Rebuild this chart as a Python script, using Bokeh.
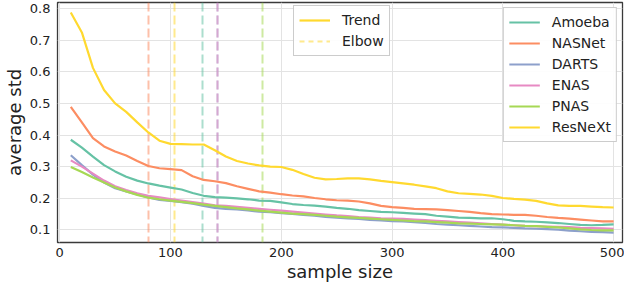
from bokeh.plotting import figure
from bokeh.models import Range1d, Legend, LegendItem, FixedTicker, NumeralTickFormatter
from bokeh.embed import file_html
from bokeh.resources import INLINE

sample_sizes = list(range(10, 510, 10))

amoeba = [0.385, 0.360, 0.332, 0.305, 0.285, 0.268, 0.256, 0.247, 0.240, 0.234,
          0.228, 0.217, 0.208, 0.204, 0.202, 0.200, 0.197, 0.193, 0.192, 0.187,
          0.182, 0.179, 0.177, 0.174, 0.170, 0.167, 0.163, 0.160, 0.157, 0.156,
          0.154, 0.152, 0.150, 0.145, 0.142, 0.139, 0.138, 0.137, 0.137, 0.134,
          0.129, 0.127, 0.126, 0.124, 0.122, 0.119, 0.116, 0.115, 0.116, 0.118]
nasnet = [0.489, 0.440, 0.390, 0.364, 0.348, 0.335, 0.318, 0.302, 0.295, 0.292,
          0.289, 0.270, 0.258, 0.254, 0.248, 0.238, 0.230, 0.222, 0.218, 0.213,
          0.209, 0.206, 0.201, 0.197, 0.194, 0.193, 0.190, 0.184, 0.176, 0.172,
          0.170, 0.167, 0.166, 0.165, 0.163, 0.160, 0.157, 0.153, 0.150, 0.149,
          0.148, 0.148, 0.145, 0.141, 0.138, 0.136, 0.133, 0.130, 0.127, 0.127]
darts = [0.336, 0.305, 0.275, 0.250, 0.232, 0.222, 0.212, 0.203, 0.195, 0.192,
         0.188, 0.183, 0.176, 0.170, 0.167, 0.165, 0.162, 0.158, 0.156, 0.153,
         0.151, 0.148, 0.145, 0.141, 0.139, 0.137, 0.135, 0.132, 0.130, 0.128,
         0.127, 0.125, 0.122, 0.119, 0.117, 0.115, 0.113, 0.111, 0.109, 0.108,
         0.107, 0.105, 0.104, 0.103, 0.101, 0.098, 0.096, 0.094, 0.093, 0.092]
enas = [0.320, 0.300, 0.278, 0.256, 0.238, 0.226, 0.216, 0.208, 0.203, 0.198,
        0.193, 0.188, 0.183, 0.178, 0.176, 0.173, 0.170, 0.167, 0.164, 0.161,
        0.158, 0.155, 0.152, 0.149, 0.146, 0.144, 0.141, 0.139, 0.137, 0.136,
        0.135, 0.133, 0.131, 0.129, 0.127, 0.125, 0.123, 0.121, 0.119, 0.117,
        0.115, 0.113, 0.112, 0.111, 0.110, 0.109, 0.107, 0.106, 0.105, 0.104]
pnas = [0.299, 0.283, 0.266, 0.250, 0.234, 0.222, 0.211, 0.202, 0.197, 0.193,
        0.189, 0.185, 0.180, 0.176, 0.172, 0.168, 0.165, 0.161, 0.158, 0.155,
        0.152, 0.150, 0.148, 0.145, 0.142, 0.140, 0.138, 0.136, 0.134, 0.132,
        0.130, 0.128, 0.127, 0.125, 0.123, 0.121, 0.120, 0.119, 0.118, 0.117,
        0.115, 0.113, 0.112, 0.110, 0.108, 0.105, 0.102, 0.100, 0.099, 0.099]
resnext = [0.787, 0.724, 0.612, 0.542, 0.500, 0.473, 0.440, 0.408, 0.382, 0.372,
           0.371, 0.370, 0.370, 0.352, 0.332, 0.318, 0.310, 0.304, 0.300, 0.299,
           0.290, 0.277, 0.265, 0.260, 0.261, 0.263, 0.263, 0.260, 0.255, 0.251,
           0.247, 0.243, 0.238, 0.232, 0.222, 0.216, 0.214, 0.212, 0.208, 0.201,
           0.198, 0.196, 0.192, 0.184, 0.178, 0.176, 0.176, 0.174, 0.172, 0.171]

series_names = ["Amoeba", "NASNet", "DARTS", "ENAS", "PNAS", "ResNeXt"]
series_values = [amoeba, nasnet, darts, enas, pnas, resnext]
series_colors = ["#66c2a5", "#fc8d62", "#8da0cb", "#e78ac3", "#a6d854", "#ffd92f"]
elbow_x = [129, 80, 142, 142, 183, 104]

x_ticks = [0, 100, 200, 300, 400, 500]
y_ticks = [0.1, 0.2, 0.3, 0.4, 0.5, 0.6, 0.7, 0.8]

FONT = "DejaVu Sans"

p = figure(width=624, height=284, output_backend="svg", toolbar_location=None,
           x_range=Range1d(-2, 508), y_range=Range1d(0.0605, 0.8185),
           min_border_left=40, min_border_right=2, min_border_top=2, min_border_bottom=30)
p.background_fill_color = "white"
p.border_fill_color = "white"
p.outline_line_color = "#3a3a3a"
p.outline_line_width = 1.3

p.xgrid.grid_line_color = "#e3e3e3"
p.ygrid.grid_line_color = "#e3e3e3"
p.xgrid.grid_line_width = 1
p.ygrid.grid_line_width = 1

p.xaxis.ticker = FixedTicker(ticks=x_ticks)
p.yaxis.ticker = FixedTicker(ticks=y_ticks)
p.yaxis.formatter = NumeralTickFormatter(format="0.0")
for ax in (p.xaxis, p.yaxis):
    ax.axis_line_color = None
    ax.major_tick_line_color = None
    ax.minor_tick_line_color = None
    ax.major_tick_out = 0
    ax.major_tick_in = 0
    ax.major_label_text_font = FONT
    ax.major_label_text_font_size = "13px"
    ax.major_label_text_color = "#222222"
    ax.axis_label_text_font = FONT
    ax.axis_label_text_font_size = "18px"
    ax.axis_label_text_font_style = "normal"
    ax.axis_label_text_color = "#222222"
p.xaxis.axis_label = "sample size"
p.yaxis.axis_label = "average std"
p.xaxis.major_label_standoff = 5
p.yaxis.major_label_standoff = 7
p.xaxis.axis_label_standoff = 1
p.yaxis.axis_label_standoff = 2

# elbow lines
for xe, c in zip(elbow_x, series_colors):
    p.vspan(x=[xe], line_color=c, line_alpha=0.55, line_width=2, line_dash="9 4")

renderers = []
for name, vals, c in zip(series_names, series_values, series_colors):
    r = p.line(sample_sizes, vals, line_color=c, line_width=2.2)
    renderers.append(r)

elbow_legend_line = p.line([elbow_x[5], elbow_x[5]], [float("nan"), float("nan")],
                           line_color=series_colors[5], line_alpha=0.55,
                           line_width=2, line_dash="5 4")

def style_legend(lg):
    lg.label_text_font = FONT
    lg.label_text_font_size = "14px"
    lg.label_text_color = "#222222"
    lg.label_height = 18
    lg.glyph_height = 18
    lg.glyph_width = 31
    lg.label_standoff = 12
    lg.spacing = 3
    lg.padding = 5
    lg.border_line_color = "#9a9a9a"
    lg.border_line_width = 1
    lg.background_fill_color = "white"
    lg.background_fill_alpha = 0.9

legend_series = Legend(items=[LegendItem(label=n, renderers=[r]) for n, r in zip(series_names, renderers)],
                       location="top_right")
style_legend(legend_series)
legend_series.margin = 5

legend_trend = Legend(items=[LegendItem(label="Trend", renderers=[renderers[5]]),
                             LegendItem(label="Elbow", renderers=[elbow_legend_line])],
                      location=(236, 186))
style_legend(legend_trend)
legend_trend.margin = 0

p.add_layout(legend_trend, "center")
p.add_layout(legend_series, "center")

open("out.html", "w").write(file_html(p, INLINE))
